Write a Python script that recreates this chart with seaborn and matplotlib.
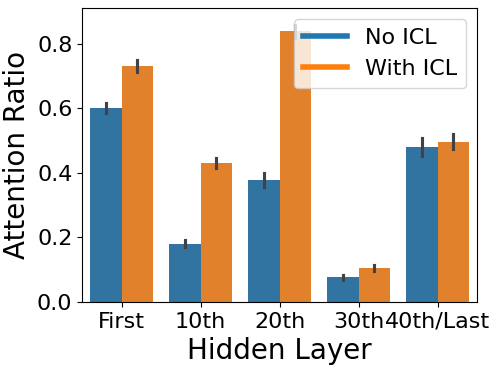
import numpy as np
import pandas as pd
import matplotlib
matplotlib.use("Agg")
import matplotlib.pyplot as plt
import seaborn as sns
from matplotlib.lines import Line2D

layers = ["First", "10th", "20th", "30th", "40th/Last"]
no_icl = [0.60, 0.18, 0.377, 0.076, 0.48]
with_icl = [0.73, 0.43, 0.838, 0.106, 0.497]
# half width of the error bar of each bar
no_icl_err = [0.016, 0.011, 0.022, 0.009, 0.027]
with_icl_err = [0.018, 0.015, 0.02, 0.010, 0.023]

# two points per bar (low, high) -> mean gives the bar, min/max gives the error bar
rows = []
for name, vals, errs in [("No ICL", no_icl, no_icl_err), ("With ICL", with_icl, with_icl_err)]:
    for layer, v, e in zip(layers, vals, errs):
        rows.append({"layer": layer, "ratio": v - e, "setting": name})
        rows.append({"layer": layer, "ratio": v + e, "setting": name})
df = pd.DataFrame(rows)

fig, ax = plt.subplots(figsize=(4.98, 3.71), dpi=100)
sns.barplot(
    data=df,
    x="layer",
    y="ratio",
    hue="setting",
    order=layers,
    errorbar=lambda x: (x.min(), x.max()),
    ax=ax,
)
ax.set_ylim(0, 0.91)
ax.set_xlabel("Hidden Layer", fontsize=20)
ax.set_ylabel("Attention Ratio", fontsize=20)
ax.tick_params(labelsize=16)

handles = [
    Line2D([0], [0], color="C0", lw=4),
    Line2D([0], [0], color="C1", lw=4),
]
ax.legend(handles, ["No ICL", "With ICL"], loc="upper right", fontsize=16)

plt.subplots_adjust(left=0.165, right=0.958, top=0.978, bottom=0.186)
plt.savefig("out.png", dpi=100)
